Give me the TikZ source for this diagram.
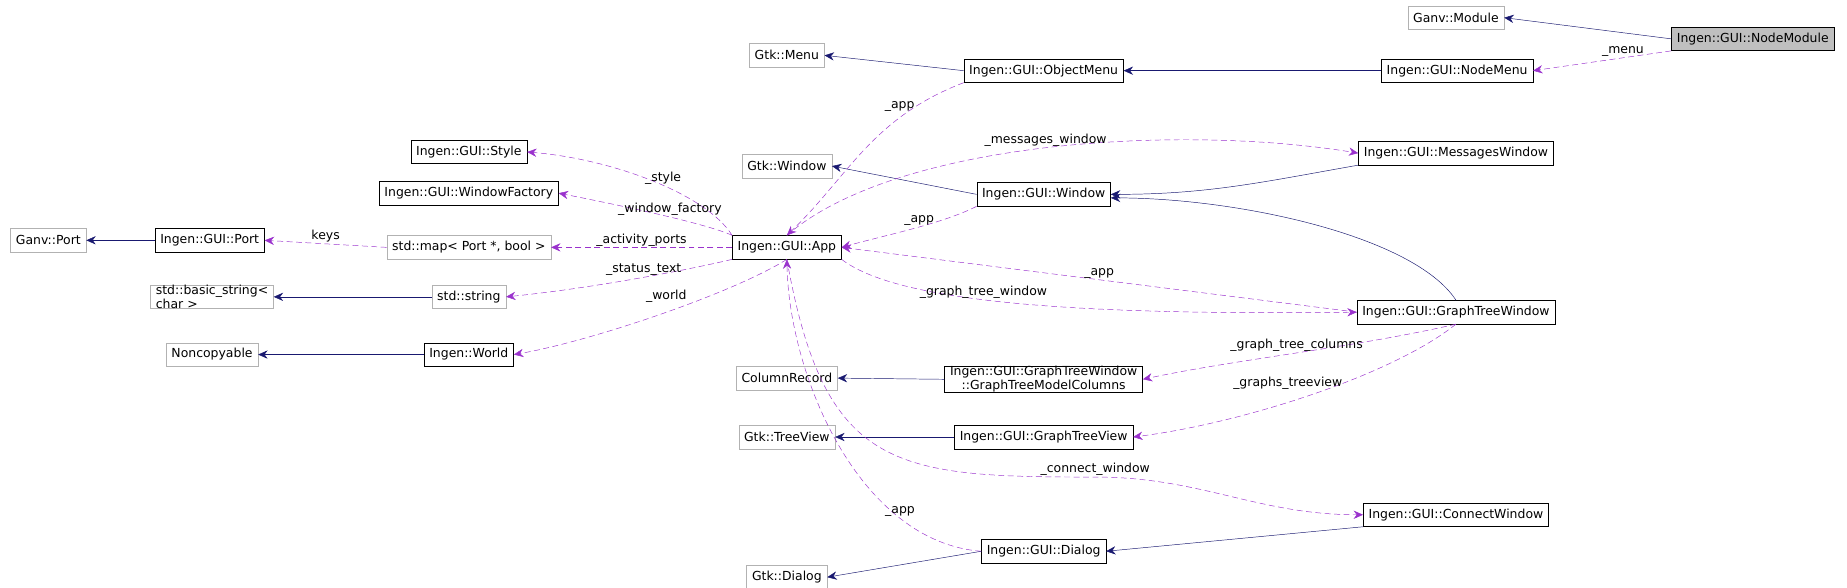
\documentclass[tikz,border=0pt]{standalone}
\usepackage{fontspec}
\setmainfont{DejaVu Sans}
\usetikzlibrary{arrows.meta}
\tikzset{
  cls/.style={draw=black, fill=white, inner xsep=4.5bp, inner ysep=0bp, minimum height=20bp, font=\fontsize{10.6}{12}\selectfont},
  ext/.style={cls, draw=gray!60},
  inh/.style={draw={rgb,255:red,25;green,25;blue,112}, -{Stealth[length=8bp,width=7bp]}},
  dep/.style={draw={rgb,255:red,154;green,50;blue,205}, dash pattern=on 5bp off 3bp, -{Stealth[length=8bp,width=7bp]}},
  lbl/.style={font=\fontsize{10.6}{12}\selectfont, inner sep=1bp}
}
\begin{document}
\begin{tikzpicture}[x=1bp, y=-1bp]
	\useasboundingbox (0,0) rectangle (1568,499);

	% classes
	\node[ext] (module) at (1236,15) {Ganv::Module};
	\node[cls, fill=gray!50] (nodemodule) at (1488,33) {Ingen::GUI::NodeModule};
	\node[ext] (gtkmenu) at (668,47) {Gtk::Menu};
	\node[cls] (objmenu) at (886,60) {Ingen::GUI::ObjectMenu};
	\node[cls] (nodemenu) at (1237,60) {Ingen::GUI::NodeMenu};
	\node[cls] (style) at (398,129) {Ingen::GUI::Style};
	\node[ext] (gtkwindow) at (668,141) {Gtk::Window};
	\node[cls] (msgwin) at (1236,130) {Ingen::GUI::MessagesWindow};
	\node[cls] (winfac) at (398,164) {Ingen::GUI::WindowFactory};
	\node[cls] (window) at (886,165) {Ingen::GUI::Window};
	\node[ext] (ganvport) at (41,204) {Ganv::Port};
	\node[cls] (guiport) at (178,204) {Ingen::GUI::Port};
	\node[ext] (stdmap) at (398,210) {std::map< Port *, bool >};
	\node[cls] (app) at (668,210) {Ingen::GUI::App};
	\node[ext, align=left] (basicstr) at (180,252) {std::basic\_string<\\char >};
	\node[ext] (stdstr) at (398,252) {std::string};
	\node[cls] (gtw) at (1236,265) {Ingen::GUI::GraphTreeWindow};
	\node[ext] (noncopy) at (180,301) {Noncopyable};
	\node[cls] (world) at (398,301) {Ingen::World};
	\node[ext] (colrec) at (668,321) {ColumnRecord};
	\node[cls, align=center] (cols) at (886,322) {Ingen::GUI::GraphTreeWindow\\::GraphTreeModelColumns};
	\node[ext] (treeview) at (668,371) {Gtk::TreeView};
	\node[cls] (gtview) at (886,371) {Ingen::GUI::GraphTreeView};
	\node[cls] (connwin) at (1236,437) {Ingen::GUI::ConnectWindow};
	\node[cls] (dialog) at (886,468) {Ingen::GUI::Dialog};
	\node[ext] (gtkdialog) at (668,490) {Gtk::Dialog};

	% inheritance
	\draw[inh] (nodemodule.west) -- (module.east);
	\draw[inh] (nodemenu.west) -- (objmenu.east);
	\draw[inh] (objmenu.west) -- (gtkmenu.east);
	\draw[inh] (msgwin.south west) to[out=190,in=0] (window.east);
	\draw[inh] (window.west) -- (gtkwindow.east);
	\draw[inh] (gtw.north) .. controls (1200,200) and (1050,168) .. (window.east |- 0,168);
	\draw[inh] (guiport.west) -- (ganvport.east);
	\draw[inh] (stdstr.west) -- (basicstr.east);
	\draw[inh] (world.west) -- (noncopy.east);
	\draw[inh] (cols.west) -- (colrec.east);
	\draw[inh] (gtview.west) -- (treeview.east);
	\draw[inh] (connwin.south west) -- (dialog.east);
	\draw[inh] (dialog.west) -- (gtkdialog.east);

	% members
	\draw[dep] (nodemodule.south west) -- node[lbl, above, pos=0.35] {\_menu} (nodemenu.east);
	\draw[dep] (objmenu.south west) .. controls (740,100) and (720,150) .. node[lbl, pos=0.2, left] {\_app} (app.north);
	\draw[dep] (app.north) .. controls (760,120) and (1000,105) .. node[lbl, pos=0.5, above] {\_messages\_window} (msgwin.west);
	\draw[dep] (app.north west) .. controls (600,165) and (520,135) .. node[lbl, pos=0.45, above] {\_style} (style.east);
	\draw[dep] (app.north west) .. controls (600,190) and (530,175) .. node[lbl, pos=0.45, above] {\_window\_factory} (winfac.east);
	\draw[dep] (window.south west) .. controls (800,190) and (750,200) .. node[lbl, pos=0.45, above] {\_app} (app.east);
	\draw[dep] (app.west) -- node[lbl, above] {\_activity\_ports} (stdmap.east);
	\draw[dep] (stdmap.west) -- node[lbl, above] {keys} (guiport.east);
	\draw[dep] (app.south west) .. controls (580,230) and (500,245) .. node[lbl, pos=0.45, above] {\_status\_text} (stdstr.east);
	\draw[dep] (app.south) .. controls (620,250) and (500,290) .. node[lbl, pos=0.4, above left] {\_world} (world.east);
	\draw[dep] (gtw.west) -- node[lbl, pos=0.5, above] {\_app} (app.east);
	\draw[dep] (app.south east) .. controls (760,255) and (900,268) .. node[lbl, pos=0.45, above] {\_graph\_tree\_window} (gtw.west);
	\draw[dep] (gtw.south) .. controls (1150,295) and (1050,305) .. node[lbl, pos=0.5, above] {\_graph\_tree\_columns} (cols.east);
	\draw[dep] (gtw.south) .. controls (1180,320) and (1050,360) .. node[lbl, pos=0.4, left] {\_graphs\_treeview} (gtview.east);
	\draw[dep] (app.south) .. controls (700,400) and (760,405) .. node[lbl, pos=0.9, above right] {\_connect\_window} (930,405) to[out=0,in=180] (connwin.west);
	\draw[dep] (dialog.west) .. controls (730,460) and (670,320) .. node[lbl, pos=0.25, above] {\_app} (app.south);
\end{tikzpicture}
\end{document}
